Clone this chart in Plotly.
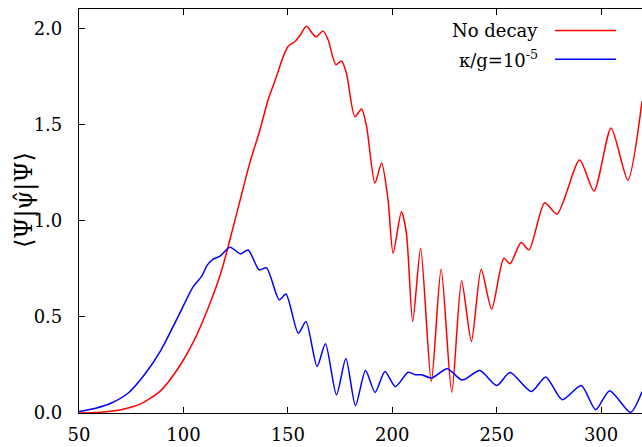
import plotly.graph_objects as go

# ---- data ----
red_x = [50, 60, 70, 80, 89, 97, 105, 112, 118, 122, 127, 131.8, 136.6, 140.6, 144.6, 147.7,
         150.1, 153.3, 156, 158.9, 163.4, 166.9, 169.3, 173, 175.7, 178.1, 182.1, 185.3, 187.7,
         191.7, 194.9, 198, 200.4, 204.4, 206.8, 209.8, 213.6, 218.7, 223.4, 228.5, 233.2, 237.9,
         242.6, 247.6, 253.4, 256.4, 261.7, 265.5, 273, 278.9, 289.7, 296.6, 304.8, 312.8, 319.6]
red_y = [0.0, 0.004, 0.017, 0.05, 0.115, 0.225, 0.375, 0.55, 0.73, 0.89, 1.10, 1.30, 1.47, 1.63,
         1.75, 1.85, 1.905, 1.93, 1.965, 2.01, 1.955, 1.985, 1.94, 1.81, 1.83, 1.765, 1.54, 1.58,
         1.49, 1.195, 1.30, 1.107, 0.83, 1.046, 0.934, 0.475, 0.856, 0.164, 0.748, 0.107, 0.688,
         0.372, 0.747, 0.54, 0.804, 0.776, 0.886, 0.848, 1.093, 1.034, 1.315, 1.154, 1.482, 1.211,
         1.62]

blue_x = [50, 58, 65.5, 73.6, 81.4, 89.4, 97.4, 104.7, 108.7, 111.5, 114.3, 117.5, 122.3, 127.4,
          131, 136.3, 139.8, 145.9, 149.1, 155, 158.7, 164, 168, 173.3, 177.8, 182.4, 187.2,
          191.8, 196.5, 201.5, 207.6, 211, 214, 218.9, 226.3, 233.5, 241.9, 250, 256.4, 266.6,
          273.5, 281.4, 290.5, 297.4, 304.1, 314.1, 319.6]
blue_y = [0.008, 0.025, 0.052, 0.104, 0.20, 0.33, 0.50, 0.657, 0.71, 0.77, 0.80, 0.815, 0.861,
          0.827, 0.847, 0.744, 0.754, 0.588, 0.619, 0.415, 0.475, 0.242, 0.36, 0.095, 0.283,
          0.038, 0.221, 0.107, 0.216, 0.137, 0.212, 0.199, 0.199, 0.182, 0.23, 0.171, 0.221,
          0.143, 0.21, 0.112, 0.187, 0.069, 0.143, 0.017, 0.116, 0.003, 0.11]

x_ticks = [50, 100, 150, 200, 250, 300]
y_ticks = [0.0, 0.5, 1.0, 1.5, 2.0]
series_names = ["No decay", "κ/g=10<sup>-5</sup>"]
series_colors = ["#ff0000", "#0000ff"]
y_label = "⟨Ψ|ψ̂|Ψ⟩"

FONT = "DejaVu Serif"
W, H = 642, 447
ML, MR, MT, MB = 79, 0, 9, 34
XR = [50, 319.6]
YR = [0, 2.1]

fig = go.Figure()
for xs, ys, name, col in [(red_x, red_y, series_names[0], series_colors[0]),
                          (blue_x, blue_y, series_names[1], series_colors[1])]:
    fig.add_trace(go.Scatter(x=xs, y=ys, mode="lines", name=name,
                             line=dict(color=col, width=1.5, shape="spline", smoothing=0.7),
                             showlegend=False, cliponaxis=True))

tf = dict(family=FONT, size=18, color="black")
fig.update_layout(
    width=W, height=H,
    margin=dict(l=ML, r=MR, t=MT, b=MB, pad=0, autoexpand=False),
    paper_bgcolor="white", plot_bgcolor="white",
    font=dict(family=FONT, size=18, color="black"),
    xaxis=dict(range=XR, tickvals=x_ticks, ticks="inside", ticklen=6, tickwidth=1,
               tickcolor="black", showline=True, linecolor="black", linewidth=1.2,
               mirror="ticks", showgrid=False, zeroline=False, ticklabelstandoff=5,
               automargin=False, tickfont=tf),
    yaxis=dict(range=YR, tickvals=y_ticks, tickformat=".1f", ticks="inside", ticklen=6,
               tickwidth=1, tickcolor="black", showline=True, linecolor="black",
               linewidth=1.2, showgrid=False, zeroline=False, ticklabelstandoff=12,
               automargin=False, tickfont=tf),
    yaxis2=dict(range=YR, tickvals=y_ticks, ticks="inside", ticklen=6, tickwidth=1,
                tickcolor="black", showline=False, showticklabels=False, showgrid=False,
                zeroline=False, overlaying="y", side="right", matches="y", automargin=False),
)

# y-axis label
plot_h = H - MT - MB
plot_w = W - ML - MR
fig.add_annotation(text=y_label, xref="paper", yref="paper",
                   x=(24 - ML) / plot_w, y=(H - MB - 200) / plot_h,
                   xanchor="center", yanchor="middle", textangle=-90, showarrow=False,
                   font=dict(family=FONT, size=24, color="black"))

# legend (gnuplot style: text on the left, sample line on the right)
legend_rows_px = [30.5, 59.3]
for name, col, ypx in zip(series_names, series_colors, legend_rows_px):
    yp = (H - MB - ypx) / plot_h
    fig.add_annotation(text=name, xref="paper", yref="paper",
                       x=(540 - ML) / plot_w, y=yp, xanchor="right", yanchor="middle",
                       showarrow=False, font=dict(family=FONT, size=18, color="black"))
    fig.add_shape(type="line", xref="paper", yref="paper",
                  x0=(555 - ML) / plot_w, x1=(616 - ML) / plot_w, y0=yp, y1=yp,
                  line=dict(color=col, width=1.5))

fig.write_html("out.html")
